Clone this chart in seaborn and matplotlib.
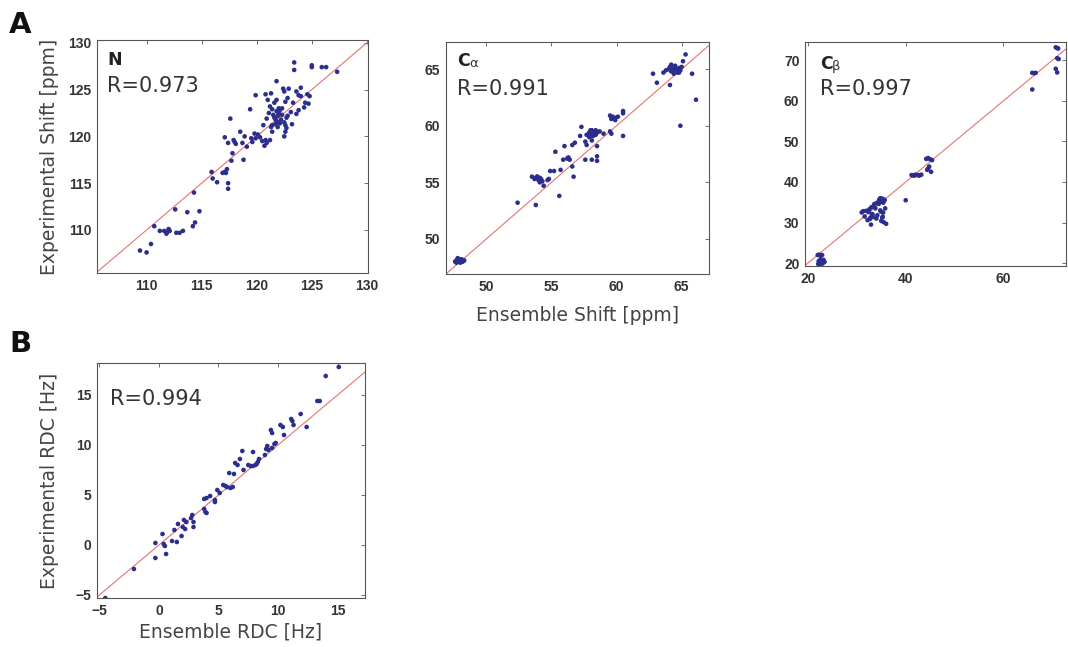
import numpy as np
import pandas as pd
import matplotlib
matplotlib.use("Agg")
import matplotlib.pyplot as plt
import seaborn as sns

# ---------------- data ----------------
n_ens = [109.4, 110.0, 110.4, 110.7, 111.2, 111.6, 111.8, 111.9, 112.0, 112.1, 112.6, 112.7,
         113.0, 113.3, 113.7, 114.3, 114.2, 114.4, 114.8, 115.9, 116.0, 116.4, 116.9, 117.1,
         117.2, 117.1, 117.3, 117.4, 117.4, 117.6, 117.7, 117.8, 117.4, 117.9, 118.0, 118.1,
         118.5, 118.7, 118.8, 118.9, 119.1, 119.4, 119.5, 119.6, 119.8, 119.9, 119.9, 120.1,
         120.3, 120.5, 120.6, 120.7, 120.8, 120.9, 120.9, 121.0, 121.1, 121.2, 121.4, 121.5,
         121.6, 121.8, 121.8, 121.3, 120.8, 121.2, 121.4, 121.3, 121.6, 121.7, 121.8, 122.0,
         122.1, 122.2, 122.3, 122.0, 121.8, 122.1, 122.3, 121.7, 121.4, 122.5, 122.6, 122.7,
         122.8, 121.9, 122.0, 121.9, 122.4, 122.5, 122.5, 122.6, 122.7, 122.9, 122.8, 122.6,
         123.1, 123.2, 123.3, 123.4, 123.4, 123.6, 123.8, 124.0, 123.8, 123.6, 124.0, 124.3,
         124.4, 124.6, 124.7, 124.8, 125.0, 125.0, 125.9, 126.3, 127.3]
n_exp = [107.8, 107.6, 108.5, 110.4, 109.9, 109.9, 109.6, 109.8, 110.1, 109.9, 112.2, 109.7,
         109.7, 109.9, 111.9, 114.0, 110.4, 110.8, 112.0, 116.2, 115.5, 115.1, 116.1, 116.2,
         116.1, 119.9, 116.5, 115.0, 114.4, 121.9, 117.4, 118.2, 119.3, 119.6, 119.4, 119.2,
         120.5, 119.3, 117.5, 120.0, 118.9, 122.9, 119.8, 119.4, 120.3, 119.8, 124.4, 120.2,
         119.9, 119.5, 121.2, 119.0, 119.6, 119.3, 121.9, 123.9, 122.5, 123.2, 122.9, 122.3,
         123.6, 123.9, 125.9, 124.6, 124.5, 119.6, 120.5, 121.0, 122.0, 121.8, 121.6, 121.5,
         121.4, 121.8, 122.3, 122.5, 122.7, 122.8, 123.0, 121.3, 121.2, 121.5, 121.2, 122.0,
         122.2, 122.2, 123.0, 121.0, 125.1, 124.8, 120.0, 120.5, 120.9, 125.1, 124.1, 123.7,
         122.6, 121.3, 123.6, 127.9, 127.1, 124.8, 124.4, 124.3, 122.8, 122.4, 125.2, 123.1,
         123.6, 124.5, 123.5, 124.3, 127.6, 127.4, 127.4, 127.4, 126.9]

ca_ens = [47.6, 47.7, 47.8, 47.9, 48.0, 48.1, 48.2, 48.3, 47.7, 47.8, 47.9, 48.0, 48.1, 47.8,
          52.4, 53.8, 53.5, 53.7, 53.8, 53.9, 54.0, 54.1, 54.2, 54.3, 53.9, 54.1, 54.4, 54.7,
          54.8, 54.9, 55.2, 55.3, 55.6, 55.7, 55.9, 56.0, 56.2, 56.3, 56.4, 56.6, 56.6, 56.7,
          56.8, 57.3, 57.2, 57.6, 57.6, 57.7, 57.7, 57.9, 58.0, 58.1, 58.2, 58.3, 58.4, 58.5,
          57.9, 58.1, 58.3, 58.0, 58.2, 58.4, 58.1, 58.1, 58.5, 58.5, 58.5, 58.7, 59.0, 59.5,
          59.6, 59.5, 59.6, 59.7, 59.9, 59.9, 60.1, 60.5, 60.5, 60.5, 62.8, 63.1, 63.6, 63.8,
          64.0, 64.1, 64.2, 64.3, 64.4, 64.5, 64.6, 64.7, 64.8, 64.9, 65.0, 64.2, 64.4, 64.6,
          64.8, 64.1, 64.9, 65.1, 65.3, 65.8, 66.1]
ca_exp = [48.0, 48.1, 48.2, 48.0, 48.1, 48.2, 48.0, 48.1, 47.9, 48.0, 48.2, 47.9, 48.0, 48.3,
          53.2, 53.0, 55.5, 55.3, 55.4, 55.5, 55.2, 55.4, 55.3, 55.1, 55.5, 55.0, 54.7, 55.2,
          55.3, 56.0, 56.0, 57.7, 53.8, 56.1, 57.0, 58.2, 57.1, 57.2, 57.0, 58.3, 56.4, 55.5,
          58.5, 59.9, 59.1, 57.0, 58.6, 58.3, 59.2, 59.4, 59.6, 59.3, 59.1, 59.5, 59.2, 59.4,
          59.0, 59.6, 59.3, 59.1, 59.5, 59.6, 58.7, 57.0, 58.2, 57.3, 56.9, 59.5, 59.3, 59.5,
          59.3, 60.9, 60.6, 60.8, 60.7, 60.5, 60.8, 61.3, 61.1, 59.1, 64.6, 63.8, 64.7, 64.9,
          65.0, 65.2, 64.8, 65.1, 64.9, 65.3, 65.0, 64.7, 65.1, 64.9, 65.2, 65.4, 64.6, 65.0,
          64.7, 63.6, 60.0, 65.7, 66.3, 64.6, 62.3]

cb_ens = [22.0, 22.3, 22.6, 22.9, 23.2, 23.4, 22.1, 22.4, 22.7, 23.0, 22.2, 22.6,
          31.0, 31.3, 31.6, 31.9, 32.2, 32.5, 32.8, 33.1, 32.4, 32.7, 33.0, 33.3, 32.6,
          32.9, 33.2, 33.5, 33.8, 34.1, 34.4, 34.7, 35.0, 35.3, 35.6, 34.2, 34.5, 34.8,
          35.1, 35.4, 35.7, 34.9, 35.2, 35.5, 35.8, 36.0, 34.6, 35.0, 35.4, 33.6, 34.0,
          34.8, 35.3, 40.0, 41.2, 41.6, 42.0, 42.4, 42.8, 43.2, 41.8, 42.6,
          44.2, 44.6, 45.0, 45.4, 44.4, 44.8, 45.2, 44.6,
          65.9, 65.9, 66.3, 66.6, 70.7, 71.0, 71.2, 71.0, 71.3, 70.7, 71.0]
cb_exp = [22.0, 22.1, 21.9, 22.0, 20.8, 20.3, 19.8, 19.6, 20.1, 19.9, 20.5, 21.0,
          32.5, 32.8, 31.5, 32.9, 30.6, 33.0, 31.2, 32.0, 32.6, 30.9, 33.8, 31.4, 33.3,
          29.5, 32.1, 34.2, 33.5, 34.8, 35.1, 35.5, 35.2, 35.8, 35.4, 31.8, 34.6, 33.0,
          35.9, 34.9, 35.6, 32.7, 31.2, 30.1, 33.5, 29.7, 35.7, 30.4, 32.5, 34.6, 31.0,
          36.0, 31.5, 35.5, 41.7, 41.6, 41.8, 41.7, 41.6, 41.8, 41.6, 41.7,
          45.7, 45.9, 45.6, 45.4, 43.0, 43.8, 42.5, 43.3,
          62.8, 66.9, 66.8, 66.9, 73.2, 73.0, 72.9, 70.5, 70.3, 67.9, 67.0]

rdc_ens = [-4.5, -2.1, -0.3, -0.3, 0.3, 0.4, 0.5, 0.6, 1.1, 1.3, 1.5, 1.6, 1.9, 2.0, 2.1,
           2.3, 2.2, 2.7, 2.8, 2.9, 2.9, 3.8, 3.8, 4.0, 4.3, 3.9, 4.0, 4.7, 4.7, 4.9, 5.1,
           5.4, 5.6, 5.7, 5.9, 6.0, 6.2, 6.3, 6.4, 6.6, 6.8, 7.0, 7.1, 7.5, 7.7, 7.9, 8.1,
           8.2, 8.3, 8.4, 7.9, 8.9, 9.0, 9.1, 9.2, 9.4, 9.5, 9.5, 9.7, 9.8, 10.2, 10.4,
           10.5, 11.1, 11.2, 11.3, 11.9, 12.4, 13.3, 13.5, 14.0, 15.1]
rdc_exp = [-5.3, -2.4, 0.2, -1.3, 1.1, 0.1, -0.1, -0.9, 0.4, 1.5, 0.3, 2.1, 0.9, 1.8, 2.5,
           2.3, 1.6, 2.7, 3.0, 1.8, 2.3, 3.6, 4.6, 4.7, 4.9, 3.3, 3.2, 4.3, 4.5, 5.5, 5.2,
           6.0, 5.9, 5.8, 7.2, 5.7, 5.8, 7.1, 8.2, 8.0, 8.6, 9.4, 7.5, 8.0, 7.9, 7.9, 8.0,
           8.1, 8.3, 8.6, 9.3, 9.0, 9.6, 9.9, 9.5, 11.5, 11.2, 9.7, 10.1, 10.2, 12.0, 11.8,
           11.0, 12.6, 12.4, 12.0, 13.1, 11.8, 14.4, 14.4, 16.9, 17.8]

panels = [
    dict(x=n_ens, y=n_exp, title="N", sub="", r="R=0.973",
         xlim=(105.5, 130.1), ylim=(105.4, 130.3),
         xticks=[110, 115, 120, 125, 130], yticks=[110, 115, 120, 125, 130],
         rect=[97, 40, 368, 273], tpos=(0.037, 0.893, 0.777)),
    dict(x=ca_ens, y=ca_exp, title="C", sub="α", r="R=0.991",
         xlim=(46.9, 67.1), ylim=(46.9, 67.4),
         xticks=[50, 55, 60, 65], yticks=[50, 55, 60, 65],
         rect=[446, 42, 709, 274], tpos=(0.042, 0.897, 0.772)),
    dict(x=cb_ens, y=cb_exp, title="C", sub="β", r="R=0.997",
         xlim=(19.4, 72.8), ylim=(19.3, 74.5),
         xticks=[20, 40, 60], yticks=[20, 30, 40, 50, 60, 70],
         rect=[805, 42, 1066, 266], tpos=(0.058, 0.88, 0.763)),
    dict(x=rdc_ens, y=rdc_exp, title="", sub="", r="R=0.994",
         xlim=(-5.2, 17.3), ylim=(-5.3, 18.2),
         xticks=[-5, 0, 5, 10, 15], yticks=[-5, 0, 5, 10, 15],
         rect=[97, 363, 365, 598], tpos=(0.049, 0.0, 0.821)),
]

sns.set_style("white")
plt.rcParams["font.family"] = ["DejaVu Sans"]

W, H = 1068, 647
fig = plt.figure(figsize=(W / 100, H / 100), dpi=100)
fig.patch.set_facecolor("white")

axes = []
for p in panels:
    l, t, r, b = p["rect"]
    ax = fig.add_axes([l / W, 1 - b / H, (r - l) / W, (b - t) / H])
    df = pd.DataFrame({"ens": p["x"], "exp": p["y"]})
    ax.axline((0, 0), slope=1, color="#e57373", lw=0.8, zorder=1)
    sns.scatterplot(data=df, x="ens", y="exp", ax=ax, s=11, color="#2b2e8c",
                    edgecolor="none", linewidth=0, zorder=2)
    ax.set_xlim(*p["xlim"])
    ax.set_ylim(*p["ylim"])
    ax.set_xticks(p["xticks"])
    ax.set_yticks(p["yticks"])
    ax.set_xlabel("")
    ax.set_ylabel("")
    ax.tick_params(direction="in", length=3, width=0.6, top=True, right=True,
                   colors="#555555", labelcolor="#333333", pad=4)
    for lab in ax.get_xticklabels() + ax.get_yticklabels():
        lab.set_fontfamily("Liberation Sans")
        lab.set_fontweight("bold")
        lab.set_fontsize(10)
    for s in ax.spines.values():
        s.set_color("#555555")
        s.set_linewidth(0.8)
    tx, ty1, ty2 = p["tpos"]
    if p["title"]:
        t1 = ax.text(tx, ty1, p["title"], transform=ax.transAxes, fontsize=12.5,
                     fontweight="bold", color="#222222", va="baseline", ha="left")
        if p["sub"]:
            ax.annotate(p["sub"], xy=(1, 0), xycoords=t1, xytext=(-0.5, 0),
                        textcoords="offset points", fontsize=9.5, color="#333333",
                        va="bottom", ha="left")
    ax.text(tx, ty2, p["r"], transform=ax.transAxes, fontsize=15,
            color="#333333", va="baseline", ha="left")
    axes.append(ax)

lab_kw = dict(fontsize=13.5, color="#444444")
axes[0].set_ylabel("Experimental Shift [ppm]", **lab_kw)
axes[0].yaxis.set_label_coords(-0.175, 0.5)
axes[0].yaxis.label.set_va("center")
axes[1].set_xlabel("Ensemble Shift [ppm]", **lab_kw)
axes[1].xaxis.set_label_coords(0.5, -0.18)
axes[1].xaxis.label.set_va("center")
axes[3].set_ylabel("Experimental RDC [Hz]", **lab_kw)
axes[3].yaxis.set_label_coords(-0.178, 0.5)
axes[3].yaxis.label.set_va("center")
axes[3].set_xlabel("Ensemble RDC [Hz]", **lab_kw)
axes[3].xaxis.set_label_coords(0.5, -0.145)
axes[3].xaxis.label.set_va("center")

fig.text(9 / W, 1 - 33 / H, "A", fontsize=21, fontweight="heavy", color="#111111",
         va="baseline", ha="left")
fig.text(9 / W, 1 - 352 / H, "B", fontsize=21, fontweight="heavy", color="#111111",
         va="baseline", ha="left")

fig.savefig("out.png", dpi=100, facecolor="white")
